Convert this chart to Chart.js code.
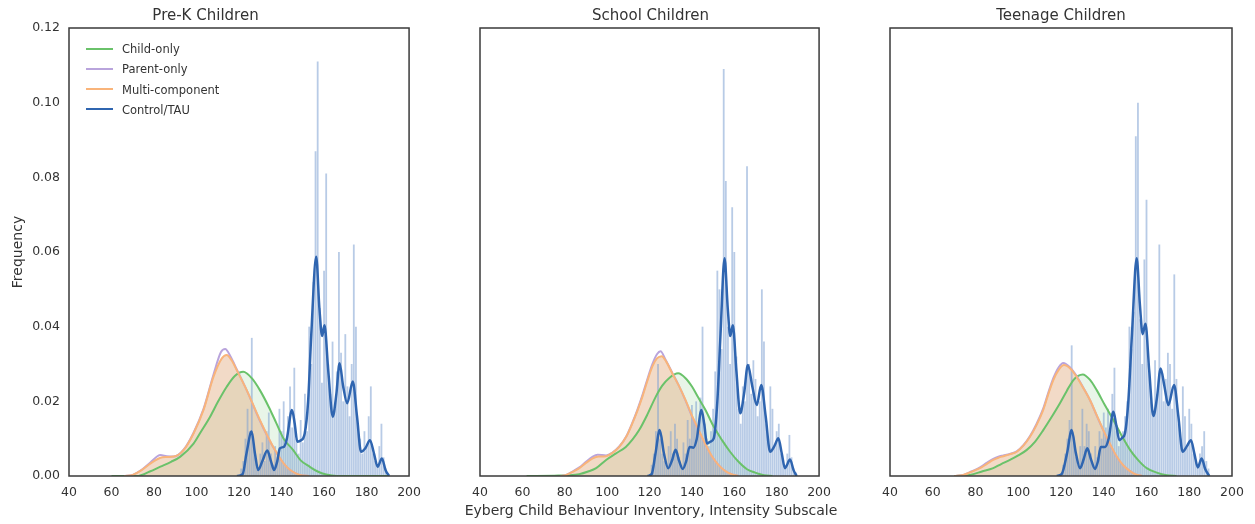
<!DOCTYPE html>
<html>
<head>
<meta charset="utf-8">
<script src="https://cdn.jsdelivr.net/npm/chart.js@4.4.1/dist/chart.umd.min.js"></script>
<style>
  body { margin: 0; background: #fff; width: 1255px; height: 524px; overflow: hidden; position: relative; font-family: 'DejaVu Sans', sans-serif; }
  canvas { position: absolute; top: 0; }
  #legend { position: absolute; left: 86px; top: 39px; font-size: 11.5px; color: #333; }
  #legend div { height: 20.3px; line-height: 20.3px; white-space: nowrap; }
  #legend span { display: inline-block; width: 27px; height: 2px; vertical-align: middle; margin-right: 9px; position: relative; top: -1px; }
  #xlabel { position: absolute; left: 450px; width: 402px; top: 502px; text-align: center; font-size: 14px; color: #333; white-space: nowrap; }
</style>
</head>
<body>
<canvas id="preK" width="430" height="524" style="left:0px"></canvas>
<canvas id="school" width="380" height="524" style="left:460px"></canvas>
<canvas id="teen" width="385" height="524" style="left:870px"></canvas>
<div id="legend">
  <div><span style="background:#6ac26a"></span>Child-only</div>
  <div><span style="background:#b9a4dc"></span>Parent-only</div>
  <div><span style="background:#f9b47a"></span>Multi-component</div>
  <div><span style="background:#2f65b0"></span>Control/TAU</div>
</div>
<div id="xlabel">Eyberg Child Behaviour Inventory, Intensity Subscale</div>
<script>
// histogram bins (Control/TAU scores)
const histBins = [121,122,123,124,125,126,127,128,129,130,131,132,133,134,135,136,137,138,139,140,
  141,142,143,144,145,146,147,148,149,150,151,152,153,154,155,156,157,158,159,160,
  161,162,163,164,165,166,167,168,169,170,171,172,173,174,175,176,177,178,179,180,
  181,182,183,184,185,186,187,188,189];

const preKHist = [0.002,0.004,0.010,0.018,0.012,0.037,0.008,0.004,0.002,0.006,0.009,0.004,0.012,0.017,0.006,0.003,0.008,0.005,0.018,0.012,
  0.020,0.010,0.016,0.024,0.013,0.029,0.010,0.006,0.015,0.009,0.022,0.012,0.040,0.030,0.052,0.087,0.111,0.045,0.025,0.055,
  0.081,0.030,0.022,0.036,0.018,0.028,0.060,0.033,0.020,0.038,0.024,0.016,0.030,0.062,0.040,0.014,0.010,0.006,0.012,0.008,
  0.016,0.024,0.006,0.004,0.003,0.008,0.014,0.005,0.002];
const schoolHist = [0.003,0.006,0.012,0.030,0.010,0.006,0.004,0.003,0.008,0.012,0.006,0.014,0.010,0.005,0.003,0.009,0.006,0.015,0.010,0.019,
  0.015,0.020,0.012,0.021,0.040,0.014,0.010,0.008,0.012,0.018,0.028,0.055,0.050,0.034,0.109,0.079,0.040,0.030,0.072,0.060,
  0.032,0.018,0.014,0.024,0.020,0.083,0.030,0.022,0.031,0.026,0.016,0.020,0.050,0.036,0.014,0.010,0.024,0.018,0.008,0.012,
  0.014,0.006,0.004,0.003,0.006,0.011,0.005,0.002,0.001];
const teenHist = [0.003,0.006,0.010,0.015,0.035,0.010,0.005,0.003,0.008,0.018,0.008,0.014,0.012,0.006,0.003,0.008,0.005,0.012,0.010,0.017,
  0.013,0.018,0.012,0.022,0.029,0.012,0.008,0.010,0.012,0.016,0.020,0.040,0.034,0.044,0.091,0.100,0.042,0.030,0.058,0.074,
  0.030,0.020,0.016,0.031,0.022,0.062,0.028,0.020,0.026,0.033,0.030,0.018,0.054,0.026,0.014,0.010,0.024,0.016,0.008,0.018,
  0.014,0.006,0.004,0.003,0.006,0.008,0.012,0.004,0.002];

// density curves [score, density]
const preKChild = [[60,0],[72,0],[78,0.0012],[83,0.0025],[88,0.0038],[92.4,0.0052],[98.6,0.0087],[102,0.0118],[106.4,0.0159],[110,0.0198],
  [114.2,0.0239],[118,0.0268],[122,0.0279],[126,0.0262],[129.8,0.023],[134,0.0185],[137.6,0.0141],[141,0.0100],[145.4,0.007],[149,0.0042],
  [153.2,0.0025],[157,0.0012],[161,0.0004],[166,0],[190,0]];
const preKParent = [[66,0],[70,0.0003],[74,0.0016],[78.4,0.0037],[83,0.0056],[86,0.0053],[89.3,0.0052],[94,0.0071],[98.6,0.0116],[103.3,0.018],
  [108,0.0272],[111.5,0.0332],[113.5,0.034],[116,0.032],[118.9,0.0286],[123.6,0.023],[129.8,0.0148],[136.1,0.0077],[142.3,0.0025],[148.5,0.0003],[153,0]];
const preKMulti = [[66,0],[70,0.0003],[74,0.0015],[78.4,0.0034],[83,0.0049],[86,0.0051],[89.3,0.0052],[94,0.007],[98.6,0.0114],[103.3,0.0177],
  [108,0.0266],[111.9,0.0315],[114.2,0.0324],[116.5,0.031],[118.9,0.0284],[123.6,0.023],[129.8,0.015],[136.1,0.0078],[142.3,0.0025],[148.5,0.0003],[153,0]];
const preKControl = [[119,0],[121.7,0.0005],[123.5,0.006],[125.9,0.0119],[127.5,0.006],[129,0.0016],[131,0.004],[133.3,0.0068],[135,0.004],[136.5,0.0016],
  [138,0.004],[139.2,0.0074],[141.1,0.0078],[142.5,0.010],[144.9,0.0177],[146.2,0.014],[147.4,0.0092],[149,0.0095],[150.9,0.0114],[152.5,0.020],
  [154,0.038],[156.3,0.0587],[157.8,0.045],[159.1,0.0375],[160.2,0.0404],[162,0.028],[164.1,0.0159],[165.8,0.022],[167.3,0.0302],[169,0.024],
  [170.9,0.0195],[173.5,0.0253],[175.5,0.016],[177.4,0.0065],[179.5,0.0075],[181.6,0.0096],[183.5,0.006],[185.2,0.0025],[187.2,0.0047],[189,0.0015],[190.6,0]];

const schoolChild = [[62,0],[75,0.0001],[82,0.0002],[86.9,0.0005],[91,0.0012],[94.8,0.0021],[99.5,0.0043],[104,0.006],[108.8,0.0078],[112,0.0098],
  [115.1,0.0123],[119,0.0165],[122.9,0.0212],[126,0.0242],[129.2,0.0262],[133.5,0.0275],[137,0.0262],[140.1,0.0239],[143,0.021],[146.4,0.0177],
  [150,0.0135],[154.2,0.0096],[158,0.0065],[162,0.0038],[166,0.0018],[169.8,0.0009],[174,0.0002],[178,0]];
const schoolParent = [[78,0],[80.7,0.0003],[84,0.0013],[86.9,0.0023],[90,0.0038],[93.2,0.0052],[95.5,0.0057],[99.5,0.0055],[102.5,0.0063],[105.7,0.0079],
  [109,0.0106],[111.9,0.0143],[114.3,0.0178],[116.6,0.0216],[119,0.026],[121.3,0.0299],[123.5,0.0326],[125.2,0.0334],[127.5,0.0312],[130.7,0.0277],
  [134,0.024],[137,0.0202],[140,0.016],[143.2,0.0121],[146.4,0.0084],[149.5,0.0052],[152.5,0.003],[155.8,0.0013],[159,0.0004],[162,0]];
const schoolMulti = [[78,0],[80.7,0.0003],[84,0.0012],[86.9,0.0021],[90,0.0035],[93.2,0.0047],[96,0.0052],[99.5,0.0053],[102.5,0.0062],[105.7,0.0078],
  [109,0.0105],[111.9,0.0141],[114.3,0.0175],[116.6,0.0212],[119,0.0255],[121.3,0.0293],[123.5,0.0315],[125.7,0.0321],[128,0.0305],[130.7,0.0275],
  [134,0.024],[137,0.0203],[140,0.0162],[143.2,0.0123],[146.4,0.0085],[149.5,0.0052],[152.5,0.003],[155.8,0.0013],[159,0.0004],[162,0]];
const schoolControl = [[119,0],[121,0.0005],[122.8,0.006],[124.8,0.0123],[126.8,0.006],[128.8,0.0021],[130.5,0.004],[132.3,0.007],[134,0.004],[135.7,0.0019],
  [137.3,0.004],[138.9,0.0078],[140.7,0.0076],[142.3,0.010],[144.5,0.0177],[145.8,0.014],[147.1,0.0087],[148.7,0.0092],[150.3,0.0101],[152,0.02],
  [153.5,0.038],[155.4,0.0583],[156.9,0.045],[158.1,0.0375],[159.3,0.0404],[161,0.028],[162.8,0.0168],[164.6,0.022],[166.4,0.0297],[168.5,0.024],
  [170.6,0.019],[172.7,0.0244],[174.8,0.016],[176.9,0.0065],[178.9,0.008],[180.8,0.0101],[182.4,0.006],[183.9,0.0021],[186.3,0.0044],[188,0.0015],[189.4,0]];

const teenChild = [[70,0],[77.4,0.0003],[83,0.0012],[88.3,0.0021],[92,0.0032],[96.1,0.0043],[100,0.0055],[104,0.007],[108,0.0093],[111.7,0.0123],
  [115.6,0.0158],[119.5,0.0195],[122.7,0.0228],[125.8,0.0257],[128,0.0268],[130.2,0.0272],[133.5,0.0258],[136.7,0.023],[140.5,0.019],[144.5,0.015],
  [148.4,0.0108],[152.3,0.007],[156.2,0.0042],[160.1,0.0021],[164.8,0.0009],[169.5,0.0002],[174,0]];
const teenParent = [[70,0],[74.3,0.0003],[78,0.0012],[82.1,0.0023],[85.2,0.0035],[88.3,0.0046],[90.7,0.0052],[93,0.0055],[96,0.0059],[99.3,0.0066],
  [102.5,0.0083],[105.5,0.0107],[108.6,0.014],[111.7,0.0181],[114,0.0222],[116.4,0.0262],[119,0.0292],[121,0.0303],[124.3,0.0291],[127.3,0.0268],
  [130.4,0.0237],[133.6,0.0203],[136.7,0.0162],[139.8,0.0122],[143,0.0084],[146.1,0.0051],[149.2,0.0028],[152.3,0.0013],[155,0.0004],[158,0]];
const teenMulti = [[70,0],[74.3,0.0003],[78,0.0011],[82.1,0.0021],[85.2,0.0032],[88.3,0.0043],[90.7,0.0049],[93,0.0053],[96,0.0058],[99.3,0.0065],
  [102.5,0.0082],[105.5,0.0105],[108.6,0.0137],[111.7,0.0177],[114,0.0218],[116.4,0.0257],[119,0.0285],[121.4,0.0297],[124.3,0.0288],[127.3,0.0266],
  [130.4,0.0236],[133.6,0.0203],[136.7,0.0163],[139.8,0.0123],[143,0.0085],[146.1,0.0052],[149.2,0.0028],[152.3,0.0013],[155,0.0004],[158,0]];
const teenControl = [[118,0],[120.3,0.0005],[122.8,0.006],[125,0.0123],[127,0.006],[128.9,0.0021],[130.6,0.0045],[132.3,0.0074],[134,0.0045],[135.9,0.0019],
  [137.3,0.004],[138.6,0.0078],[140.6,0.0078],[142.3,0.010],[144.5,0.0172],[145.9,0.0135],[147.3,0.0096],[148.6,0.0102],[149.9,0.0114],[151.5,0.02],
  [153.2,0.038],[155.4,0.0583],[156.9,0.046],[158.2,0.038],[159.5,0.0408],[161.3,0.028],[163.2,0.0161],[164.9,0.021],[166.6,0.0288],[168.4,0.024],
  [170.2,0.019],[172.9,0.0244],[174.9,0.016],[176.9,0.0065],[178.9,0.008],[180.8,0.0096],[182.4,0.006],[184,0.0023],[185.8,0.0047],[187.5,0.0018],[189.4,0]];

const xTicks = [40, 60, 80, 100, 120, 140, 160, 180, 200];
const yTicks = [0, 0.02, 0.04, 0.06, 0.08, 0.10, 0.12];

Chart.defaults.font.family = "'DejaVu Sans', sans-serif";
Chart.defaults.color = '#333';

// box around each plot area
const frame = {
  id: 'frame',
  afterDraw(chart) {
    const a = chart.chartArea, ctx = chart.ctx;
    ctx.save();
    ctx.strokeStyle = '#3a3a3a';
    ctx.lineWidth = 1.5;
    ctx.strokeRect(a.left, a.top, a.right - a.left, a.bottom - a.top);
    ctx.restore();
  }
};

function pts(arr) {
  return arr.map(p => ({ x: p[0], y: p[1] }));
}

function makePanel(id, title, hist, child, parent, multi, control, opt) {
  const ctx = document.getElementById(id).getContext('2d');
  new Chart(ctx, {
    type: 'line',
    data: {
      datasets: [
        { label: 'Control/TAU', data: pts(control), borderColor: '#2f65b0', borderWidth: 2.5, pointRadius: 0, cubicInterpolationMode: 'monotone', order: 0 },
        { label: 'Multi-component', data: pts(multi), borderColor: '#f9b47a', backgroundColor: 'rgba(228,178,138,0.48)', fill: 'origin', borderWidth: 2, pointRadius: 0, cubicInterpolationMode: 'monotone', order: 1 },
        { label: 'Parent-only', data: pts(parent), borderColor: '#b9a4dc', borderWidth: 2, pointRadius: 0, cubicInterpolationMode: 'monotone', order: 2 },
        { label: 'Child-only', data: pts(child), borderColor: '#6ac26a', backgroundColor: 'rgba(150,210,150,0.22)', fill: 'origin', borderWidth: 2, pointRadius: 0, cubicInterpolationMode: 'monotone', order: 3 },
        { type: 'bar', label: 'hist', data: histBins.map((b, i) => ({ x: b, y: hist[i] })), backgroundColor: 'rgba(125,160,210,0.55)', barPercentage: 0.85, categoryPercentage: 1, order: 4 }
      ]
    },
    options: {
      responsive: false,
      animation: false,
      devicePixelRatio: 1,
      events: [],
      layout: { padding: { left: opt.padLeft, right: opt.padRight, top: 0, bottom: 0 } },
      plugins: {
        legend: { display: false },
        tooltip: { enabled: false },
        filler: { drawTime: 'beforeDatasetsDraw' },
        title: { display: true, text: title, font: { size: 15, weight: 'normal' }, color: '#333', padding: { top: 7, bottom: 3 } }
      },
      scales: {
        x: {
          type: 'linear', min: 40, max: 200, offset: false,
          afterBuildTicks: s => { s.ticks = xTicks.map(v => ({ value: v })); },
          grid: { display: false, drawTicks: false },
          border: { display: false },
          ticks: { font: { size: 12.5 }, color: '#333', padding: 9, maxRotation: 0 },
          afterFit: s => { s.height = 48; }
        },
        y: {
          display: opt.showY, min: 0, max: 0.12,
          afterBuildTicks: s => { s.ticks = yTicks.map(v => ({ value: v })); },
          grid: { display: false, drawTicks: false },
          border: { display: false },
          ticks: { font: { size: 12.5 }, color: '#333', padding: 9, callback: v => v.toFixed(2) },
          title: { display: true, text: 'Frequency', font: { size: 14 }, color: '#333', padding: { top: 10, bottom: 0 } },
          afterFit: s => { s.width = opt.showY ? 69 : 0; }
        }
      }
    },
    plugins: [frame]
  });
}

makePanel('preK', 'Pre-K Children', preKHist, preKChild, preKParent, preKMulti, preKControl, { padLeft: 0, padRight: 19, showY: true });
makePanel('school', 'School Children', schoolHist, schoolChild, schoolParent, schoolMulti, schoolControl, { padLeft: 20, padRight: 19, showY: false });
makePanel('teen', 'Teenage Children', teenHist, teenChild, teenParent, teenMulti, teenControl, { padLeft: 20, padRight: 23, showY: false });
</script>
</body>
</html>
